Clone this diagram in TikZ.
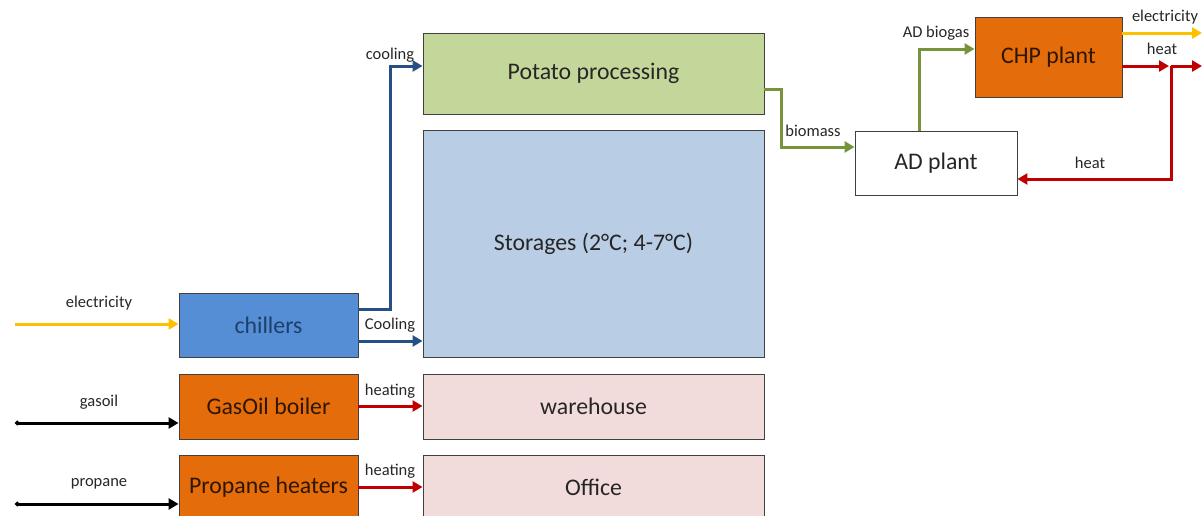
\documentclass[tikz,border=0pt]{standalone}
\usepackage{fontspec}
\setmainfont{Carlito}
\usetikzlibrary{arrows.meta}
\definecolor{potatoc}{HTML}{C4D79B}
\definecolor{storec}{HTML}{B9CDE5}
\definecolor{pinkc}{HTML}{F2DCDB}
\definecolor{chillc}{HTML}{558ED5}
\definecolor{orangec}{HTML}{E46C0A}
\definecolor{yelc}{HTML}{FFC000}
\definecolor{bluec}{HTML}{254F86}
\definecolor{redc}{HTML}{C00000}
\definecolor{greenc}{HTML}{77933C}
\definecolor{edgec}{HTML}{404040}
\tikzset{
  box/.style={draw=edgec, line width=0.9pt, font=\fontsize{23.8}{25}\selectfont, text=black!85, inner sep=0pt},
  lbl/.style={font=\fontsize{16.5}{18}\selectfont, text=black!85, inner sep=0pt},
  flow/.style={line width=3pt, -{Triangle[length=10pt,width=11pt]}},
  yel/.style={flow, draw=yelc, yelc},
  cool/.style={flow, draw=bluec},
  hot/.style={flow, draw=redc},
  bio/.style={flow, draw=greenc},
  fuel/.style={flow, draw=black, {Circle[length=4.5pt]}-{Triangle[length=10pt,width=11pt]}}
}
\begin{document}
\begin{tikzpicture}[x=1pt,y=-1pt]
\useasboundingbox (0,0) rectangle (1202,515);
\clip (0,0) rectangle (1202,515);
% consumers
\node[box, fill=potatoc, minimum width=341pt, minimum height=81pt] (potato) at (593.5,73.5) {Potato processing};
\node[box, fill=storec, minimum width=341pt, minimum height=227pt] (store) at (593.5,243.5) {Storages (2°C; 4-7°C)};
\node[box, fill=pinkc, minimum width=341pt, minimum height=65pt] (ware) at (593.5,406.5) {warehouse};
\node[box, fill=pinkc, minimum width=341pt, minimum height=64pt] (office) at (593.5,487) {Office};
% producers
\node[box, fill=chillc, text=bluec!80!black, minimum width=179pt, minimum height=64pt] (chill) at (268.5,325) {chillers};
\node[box, fill=orangec, text=black!80!orangec, minimum width=179pt, minimum height=65pt] (boiler) at (268.5,406.5) {GasOil boiler};
\node[box, fill=orangec, text=black!80!orangec, minimum width=179pt, minimum height=64pt] (prop) at (268.5,487) {Propane heaters};
% AD and CHP
\node[box, fill=white, minimum width=162pt, minimum height=64pt] (ad) at (936,163) {AD plant};
\node[box, fill=orangec, text=black!80!orangec, minimum width=147pt, minimum height=80pt] (chp) at (1048.5,57) {CHP plant};
% free ends
\coordinate (inel) at (15,324);
\coordinate (ingas) at (15,423);
\coordinate (inprop) at (15,504);
\coordinate (outel) at (1202,33);
\coordinate (outheat) at (1202,66);
\coordinate (split) at (1171,66);
% inputs
\draw[yel] (inel) -- (chill.west |- inel);
\draw[fuel] (ingas) -- (boiler.west |- ingas);
\draw[fuel] (inprop) -- (prop.west |- inprop);
\node[lbl] (lel) at (99,303) {electricity};
\node[lbl] (lgas) at (99,402) {gasoil};
\node[lbl] (lprop) at (99,484) {propane};
% chillers
\draw[cool] (chill.east |- 0,309) -| (390,66) -- (potato.west |- 0,66);
\node[lbl] (lcool1) at (390,55) {cooling};
\draw[cool] (chill.east |- 0,341) -- (store.west |- 0,341);
\node[lbl] (lcool2) at (390,325) {Cooling};
% heating
\draw[hot] (boiler.east |- 0,406) -- (ware.west |- 0,406);
\node[lbl] (lh1) at (390,391) {heating};
\draw[hot] (prop.east |- 0,487) -- (office.west |- 0,487);
\node[lbl] (lh2) at (390,471) {heating};
% biomass
\draw[bio] (potato.east |- 0,89) -| (781,147) -- (ad.west |- 0,147);
\node[lbl] (lbio) at (813,131) {biomass};
\draw[bio] (ad.north -| 919,0) |- (chp.west |- 0,49);
\node[lbl] (lbiogas) at (936,33) {AD biogas};
% CHP outputs
\draw[yel] (chp.east |- outel) -- (outel);
\node[lbl] (lel2) at (1165,17) {electricity};
\draw[hot] (chp.east |- outheat) -- ([xshift=-2pt]split);
\draw[hot] (split) -- (outheat);
\node[lbl] (lheat) at (1162,49) {heat};
\draw[hot] (split) |- (ad.east |- 0,179);
\node[lbl] (lheat2) at (1090,163) {heat};
\end{tikzpicture}
\end{document}
